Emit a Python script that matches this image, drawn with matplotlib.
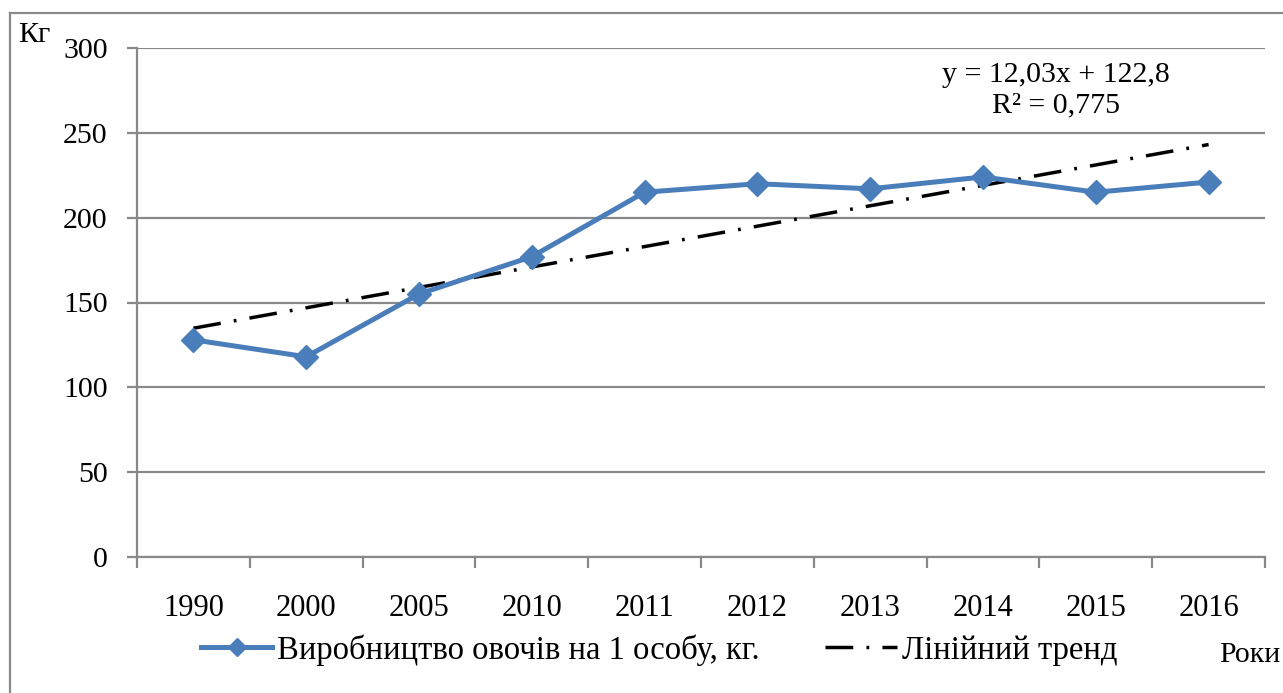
import matplotlib.pyplot as plt
import numpy as np
from matplotlib.lines import Line2D

plt.rcParams["font.family"] = ["Liberation Serif", "DejaVu Serif"]

years = ["1990", "2000", "2005", "2010", "2011", "2012", "2013", "2014", "2015", "2016"]
veg_per_capita = [128, 118, 155, 177, 215, 220, 217, 224, 215, 221]
trend_slope = 12.03
trend_intercept = 122.8
r_squared = 0.775

line_color = "#4a7ebb"
grid_color = "#898989"

x = np.arange(len(years))
trend = trend_slope * (x + 1) + trend_intercept

fig = plt.figure(figsize=(12.83, 6.93), dpi=100)
ax = fig.add_axes([137 / 1283, 1 - 557 / 693, (1265 - 137) / 1283, (557 - 48) / 693])

ax.plot(x, veg_per_capita, color=line_color, lw=3.6, marker="D", ms=12,
        label="Виробництво овочів на 1 особу, кг.", zorder=3)
ax.plot(x, trend, color="black", lw=2.5, dashes=(8, 3.8, 0.8, 3.8),
        label="Лінійний тренд", zorder=2)

ax.set_xlim(-0.5, len(years) - 0.5)
ax.set_ylim(0, 300)
ax.set_yticks(range(0, 301, 50))
ax.set_xticks(x)
ax.set_xticklabels(years)
ax.set_xticks(np.arange(-0.5, len(years)), minor=True)

ax.grid(axis="y", color=grid_color, lw=1.6)
ax.set_axisbelow(True)
for side in ["top", "right"]:
    ax.spines[side].set_visible(False)
for side in ["left", "bottom"]:
    ax.spines[side].set_color(grid_color)
    ax.spines[side].set_linewidth(1.6)

ax.tick_params(axis="y", direction="out", length=7, width=1.6, color=grid_color,
               labelsize=21.5, pad=14)
ax.tick_params(axis="x", which="major", length=0, labelsize=22, pad=27)
ax.tick_params(axis="x", which="minor", direction="out", length=8, width=1.6,
               color=grid_color)

ax.text(7.65, 284, f"y = {trend_slope:.2f}x + {trend_intercept}".replace(".", ","),
        ha="center", va="center", fontsize=21.5)
ax.text(7.65, 266, f"R² = {r_squared}".replace(".", ","),
        ha="center", va="center", fontsize=21.5)

fig.text(18 / 1283, 1 - 35 / 693, "Кг", fontsize=21.5, ha="left", va="center")
fig.text(1219 / 1283, 1 - 655 / 693, "Роки", fontsize=21.5, ha="left", va="center")

leg = fig.legend(loc="center", bbox_to_anchor=(659 / 1283, 1 - 650 / 693), ncol=2,
                 frameon=False, fontsize=23.5, handlelength=2.2, handletextpad=0.15,
                 columnspacing=2.0, markerscale=0.8)

# outer chart frame (top and left edges visible)
fig.add_artist(Line2D([10 / 1283, 10 / 1283], [0, 1 - 13 / 693], color=grid_color, lw=1.6))
fig.add_artist(Line2D([10 / 1283, 1], [1 - 13 / 693, 1 - 13 / 693], color=grid_color, lw=1.6))

fig.savefig("out.png", dpi=100)
